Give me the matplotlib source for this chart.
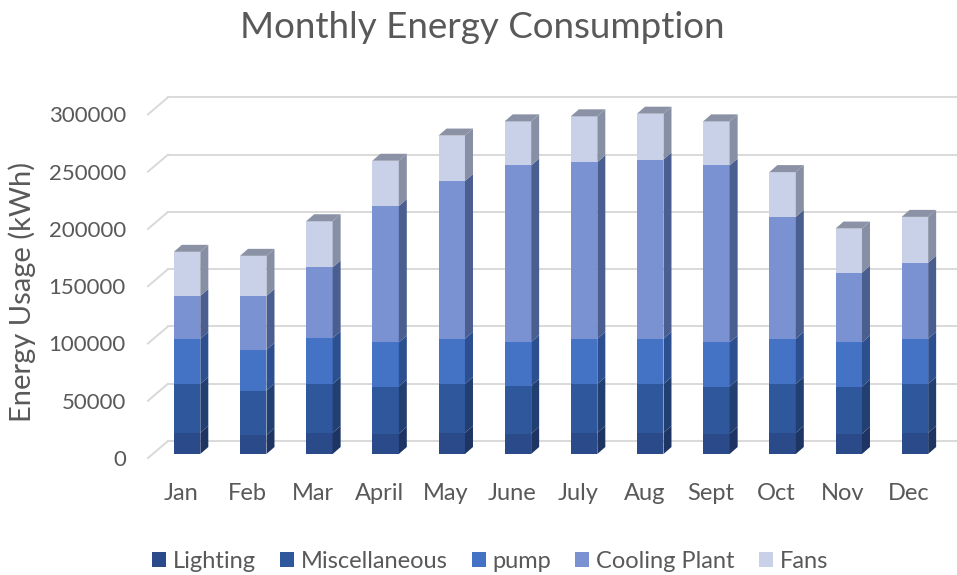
import matplotlib
matplotlib.use('Agg')
import matplotlib.pyplot as plt
from matplotlib.patches import Polygon, Patch
import numpy as np

months = ['Jan', 'Feb', 'Mar', 'April', 'May', 'June', 'July', 'Aug', 'Sept', 'Oct', 'Nov', 'Dec']
lighting = [18500, 16500, 18500, 17700, 18500, 17700, 18500, 18500, 17700, 18500, 17700, 18500]
misc = [42600, 38900, 42600, 41200, 42600, 41700, 42600, 42600, 41200, 42600, 41200, 42600]
pump = [39500, 35600, 40000, 38500, 39500, 38300, 39500, 39500, 38500, 39500, 38500, 39500]
cooling = [37400, 47000, 61800, 119100, 137700, 154200, 154200, 156500, 154500, 106400, 60900, 66400]
fans = [38500, 35000, 40300, 39500, 39700, 38500, 40000, 40000, 38500, 39100, 38500, 40000]

series_names = ['Lighting', 'Miscellaneous', 'pump', 'Cooling Plant', 'Fans']
series = [lighting, misc, pump, cooling, fans]
front_colors = ['#2A4A8A', '#2F579B', '#4472C4', '#7A92D2', '#C8D1E7']
side_colors = ['#1E3564', '#223F72', '#2C4F90', '#4A5E90', '#868FA3']
top_color = '#8C92A5'
grid_c = '#D9D9D9'
text_c = '#595959'

plt.rcParams['font.family'] = ['Lato', 'DejaVu Sans']

fig = plt.figure(figsize=(9.57, 5.75), dpi=100)
ax = fig.add_axes([148 / 957, (575 - 458) / 575, 794 / 957, 378 / 575])
ax.set_xlim(-0.5, 11.5)
ax.set_ylim(0, 330000)
for s in ax.spines.values():
    s.set_visible(False)


def px_to_data(dx, dy):
    # pixel offset -> data offset (linear axes)
    p0 = ax.transData.transform((0, 0))
    x, y = ax.transData.inverted().transform(p0 + np.array([dx, dy]))
    return x, y


bar_dx, bar_dy = px_to_data(6, 4)
side_dx, side_dy = px_to_data(8, 7)
wall_dx, wall_dy = px_to_data(20, 17)

yticks = list(range(0, 300001, 50000))
# back wall gridlines with floor diagonals
for v in yticks:
    ax.plot([-0.5, -0.5 + wall_dx], [v, v + wall_dy], color=grid_c, lw=1.4, clip_on=False, zorder=0)
    ax.plot([-0.5 + wall_dx, 12.5], [v + wall_dy, v + wall_dy], color=grid_c, lw=1.4, clip_on=False, zorder=0)

x = np.arange(len(months)) + bar_dx
w = 0.4
bottom = np.full(len(months), bar_dy)
for name, vals, fc, sc in zip(series_names, series, front_colors, side_colors):
    vals = np.array(vals, dtype=float)
    ax.bar(x, vals, w, bottom=bottom, color=fc, linewidth=0, zorder=2, clip_on=False)
    for xi, b, v in zip(x, bottom, vals):
        r = xi + w / 2
        ax.add_patch(Polygon([(r, b), (r + side_dx, b + side_dy), (r + side_dx, b + v + side_dy), (r, b + v)],
                             closed=True, facecolor=sc, edgecolor='none', zorder=2, clip_on=False))
    bottom = bottom + vals

for xi, t in zip(x, bottom):
    l, r = xi - w / 2, xi + w / 2
    ax.add_patch(Polygon([(l, t), (l + side_dx, t + side_dy), (r + side_dx, t + side_dy), (r, t)],
                         closed=True, facecolor=top_color, edgecolor='none', zorder=2, clip_on=False))

ax.set_yticks(yticks)
ax.set_yticklabels([str(t) for t in yticks])
ax.set_xticks(np.arange(len(months)))
ax.set_xticklabels(months)
ax.tick_params(axis='y', length=0, pad=16, labelsize=16, labelcolor=text_c)
ax.tick_params(axis='x', length=0, pad=18, labelsize=17, labelcolor=text_c)

fig.text(22 / 957, 1 - 292 / 575, 'Energy Usage (kWh)', rotation=90, ha='center', va='center',
         fontsize=21, color=text_c)
fig.text(482 / 957, 1 - 27 / 575, 'Monthly Energy Consumption', ha='center', va='center',
         fontsize=26.5, color=text_c)

handles = [Patch(facecolor=c, edgecolor='none') for c in front_colors]
fig.legend(handles, series_names, loc='center', bbox_to_anchor=(490 / 957, 1 - 561 / 575), ncol=5,
           frameon=False, handlelength=0.6, handleheight=0.6, handletextpad=0.3, columnspacing=1.0,
           prop={'size': 17}, labelcolor=text_c)

fig.savefig('out.png', dpi=100)
